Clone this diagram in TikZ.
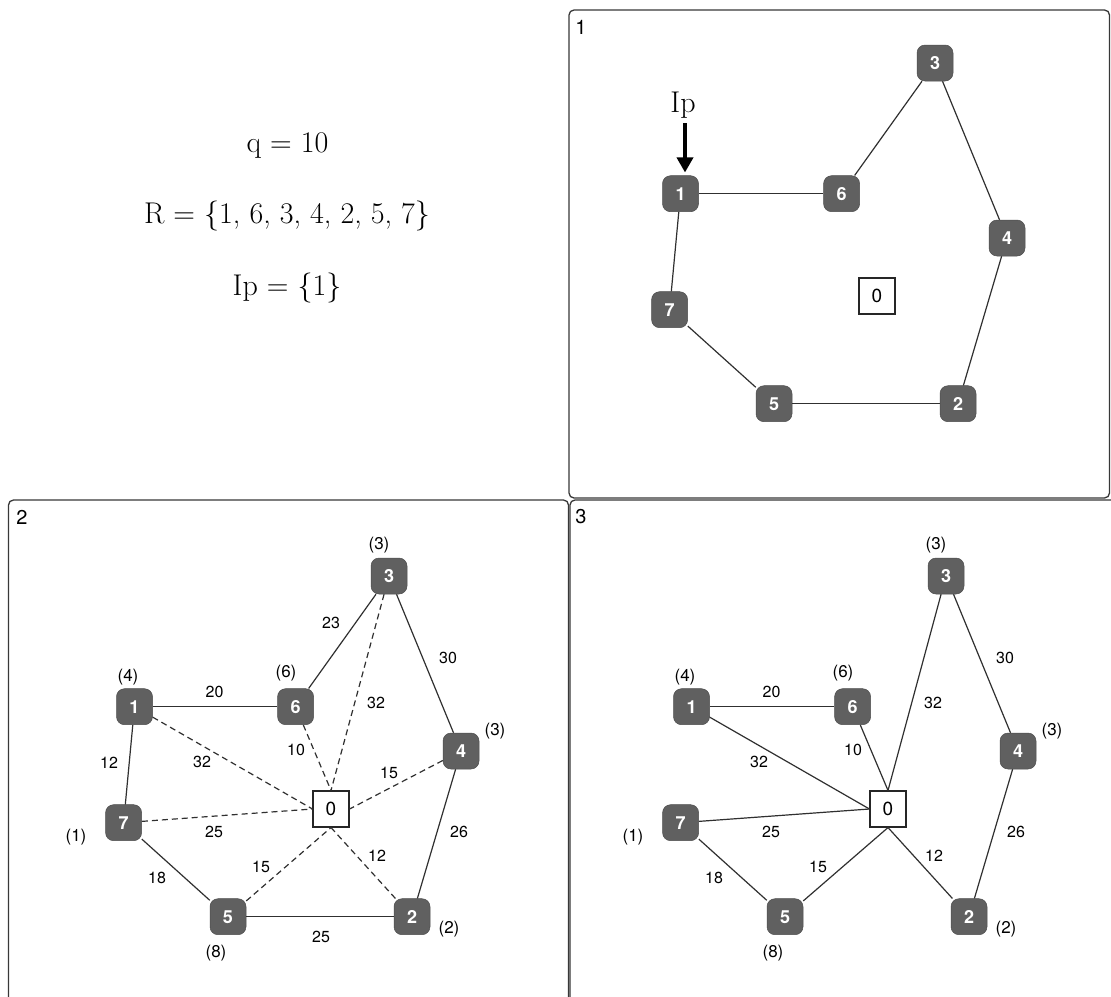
\documentclass[tikz,border=0pt]{standalone}
\usepackage{fontspec}
\newfontfamily\hv{TeX Gyre Heros}
\usetikzlibrary{arrows.meta}
\definecolor{vgray}{HTML}{606060}
\definecolor{lgray}{HTML}{303030}
\definecolor{fgray}{HTML}{383838}
\tikzset{
  vtx/.style={rectangle, rounded corners=8pt, fill=vgray, draw=vgray!80!black, line width=0.5pt,
    minimum width=36pt, minimum height=36pt, inner sep=0pt, text=white, font=\hv\bfseries\fontsize{18}{18}\selectfont},
  depot/.style={rectangle, draw=black!85, line width=1.1pt, fill=white, minimum width=36pt, minimum height=36pt,
    inner sep=0pt, font=\hv\fontsize{19}{19}\selectfont},
  edg/.style={draw=lgray, line width=1.2pt},
  dsh/.style={draw=lgray, line width=1.2pt, dash pattern=on 6pt off 4pt},
  wlab/.style={font=\hv\fontsize{16}{16}\selectfont, inner sep=0pt},
  plab/.style={font=\hv\fontsize{17}{17}\selectfont, inner sep=0pt},
  panlab/.style={font=\hv\fontsize{20}{20}\selectfont, inner sep=0pt},
  frame/.style={draw=fgray, line width=1.3pt, rounded corners=5pt},
  serif/.style={font=\fontsize{30}{30}\selectfont, inner sep=0pt, anchor=base},
}
\newcommand{\graphnodes}[1]{%
  \node[vtx] (#1n1) at (134.5,706.7) {1};
  \node[vtx] (#1n6) at (295.6,706.7) {6};
  \node[vtx] (#1n3) at (389,576) {3};
  \node[vtx] (#1n4) at (461,751) {4};
  \node[depot] (#1n0) at (331,809) {0};
  \node[vtx] (#1n7) at (123.6,822.7) {7};
  \node[vtx] (#1n5) at (228,916.7) {5};
  \node[vtx] (#1n2) at (412,916.7) {2};
}
\begin{document}
\begin{tikzpicture}[x=1pt,y=-1pt]
\useasboundingbox (0,0) rectangle (1111,996);
\clip (0,0) rectangle (1111,996);
\fill[white] (0,0) rectangle (1111,996);

% frames
\draw[frame] (569,10) rectangle (1109.5,498);
\draw[frame] (8.5,500) rectangle (568.5,1010);
\draw[frame] (570,500) rectangle (1125,1010);
\node[panlab] (pl1) at (581,27) {1};
\node[panlab] (pl2) at (22,517) {2};
\node[panlab] (pl3) at (581,517) {3};

% text block
\node[serif] (tq) at (287.5,152) {q = 10};
\node[serif] (tr) at (287,223) {R = \{1, 6, 3, 4, 2, 5, 7\}};
\node[serif] (ti) at (287,295) {Ip = \{1\}};

% panel 1
\begin{scope}[shift={(546,-513)}]
  \graphnodes{A}
\end{scope}
\draw[edg] (An1) -- (An6);
\draw[edg] (An6) -- (An3);
\draw[edg] (An3) -- (An4);
\draw[edg] (An4) -- (An2);
\draw[edg] (An2) -- (An5);
\draw[edg] (An5) -- (An7);
\draw[edg] (An7) -- (An1);
\node[serif] (ipl) at (683,112) {Ip};
\coordinate (ipa) at (685,123);
\draw[line width=3.5pt, -{Triangle[length=15pt,width=16pt]}] (ipa) -- ([yshift=3pt]An1.north -| ipa);

% panel 2
\graphnodes{B}
\draw[edg] (Bn1) -- (Bn6);
\draw[edg] (Bn6) -- (Bn3);
\draw[edg] (Bn3) -- (Bn4);
\draw[edg] (Bn4) -- (Bn2);
\draw[edg] (Bn2) -- (Bn5);
\draw[edg] (Bn5) -- (Bn7);
\draw[edg] (Bn7) -- (Bn1);
\draw[dsh] (Bn1) -- (Bn0.west);
\draw[dsh] (Bn7) -- (Bn0.west);
\draw[dsh] (Bn6) -- (Bn0.north);
\draw[dsh] (Bn3) -- (Bn0.north);
\draw[dsh] (Bn4) -- (Bn0.east);
\draw[dsh] (Bn5) -- (Bn0.south);
\draw[dsh] (Bn2) -- (Bn0.south);
\node[plab] (B3c) at (379,545) {(3)};
\node[wlab] (Bw63) at (331,623) {23};
\node[wlab] (Bw34) at (448,658) {30};
\node[plab] (B1c) at (128,677) {(4)};
\node[wlab] (Bw16) at (214.5,692) {20};
\node[plab] (B6c) at (286,673) {(6)};
\node[wlab] (Bw30) at (376,703) {32};
\node[plab] (B4c) at (495,731) {(3)};
\node[wlab] (Bw60) at (296,750) {10};
\node[wlab] (Bw10) at (202,762) {32};
\node[wlab] (Bw17) at (109,763) {12};
\node[wlab] (Bw40) at (389,773) {15};
\node[wlab] (Bw70) at (214,832) {25};
\node[plab] (B7c) at (76,837) {(1)};
\node[wlab] (Bw42) at (459,832) {26};
\node[wlab] (Bw50) at (261,867) {15};
\node[wlab] (Bw20) at (377,856) {12};
\node[wlab] (Bw75) at (157,878) {18};
\node[wlab] (Bw52) at (321,937) {25};
\node[plab] (B2c) at (449,929) {(2)};
\node[plab] (B5c) at (216,953) {(8)};

% panel 3
\begin{scope}[shift={(557,0)}]
  \graphnodes{C}
  \node[plab] (C3c) at (379,545) {(3)};
  \node[wlab] (Cw34) at (448,658) {30};
  \node[plab] (C1c) at (128,677) {(4)};
  \node[wlab] (Cw16) at (214.5,692) {20};
  \node[plab] (C6c) at (286,673) {(6)};
  \node[wlab] (Cw30) at (376,703) {32};
  \node[plab] (C4c) at (495,731) {(3)};
  \node[wlab] (Cw60) at (296,750) {10};
  \node[wlab] (Cw10) at (202,762) {32};
  \node[wlab] (Cw70) at (214,832) {25};
  \node[plab] (C7c) at (76,837) {(1)};
  \node[wlab] (Cw42) at (459,832) {26};
  \node[wlab] (Cw50) at (261,867) {15};
  \node[wlab] (Cw20) at (377,856) {12};
  \node[wlab] (Cw75) at (157,878) {18};
  \node[plab] (C2c) at (449,929) {(2)};
  \node[plab] (C5c) at (216,953) {(8)};
\end{scope}
\draw[edg] (Cn1) -- (Cn6);
\draw[edg] (Cn3) -- (Cn4);
\draw[edg] (Cn4) -- (Cn2);
\draw[edg] (Cn7) -- (Cn5);
\draw[edg] (Cn1) -- (Cn0.west);
\draw[edg] (Cn7) -- (Cn0.west);
\draw[edg] (Cn6) -- (Cn0.north);
\draw[edg] (Cn3) -- (Cn0.north);
\draw[edg] (Cn5) -- (Cn0.south);
\draw[edg] (Cn2) -- (Cn0.south);
\end{tikzpicture}
\end{document}
